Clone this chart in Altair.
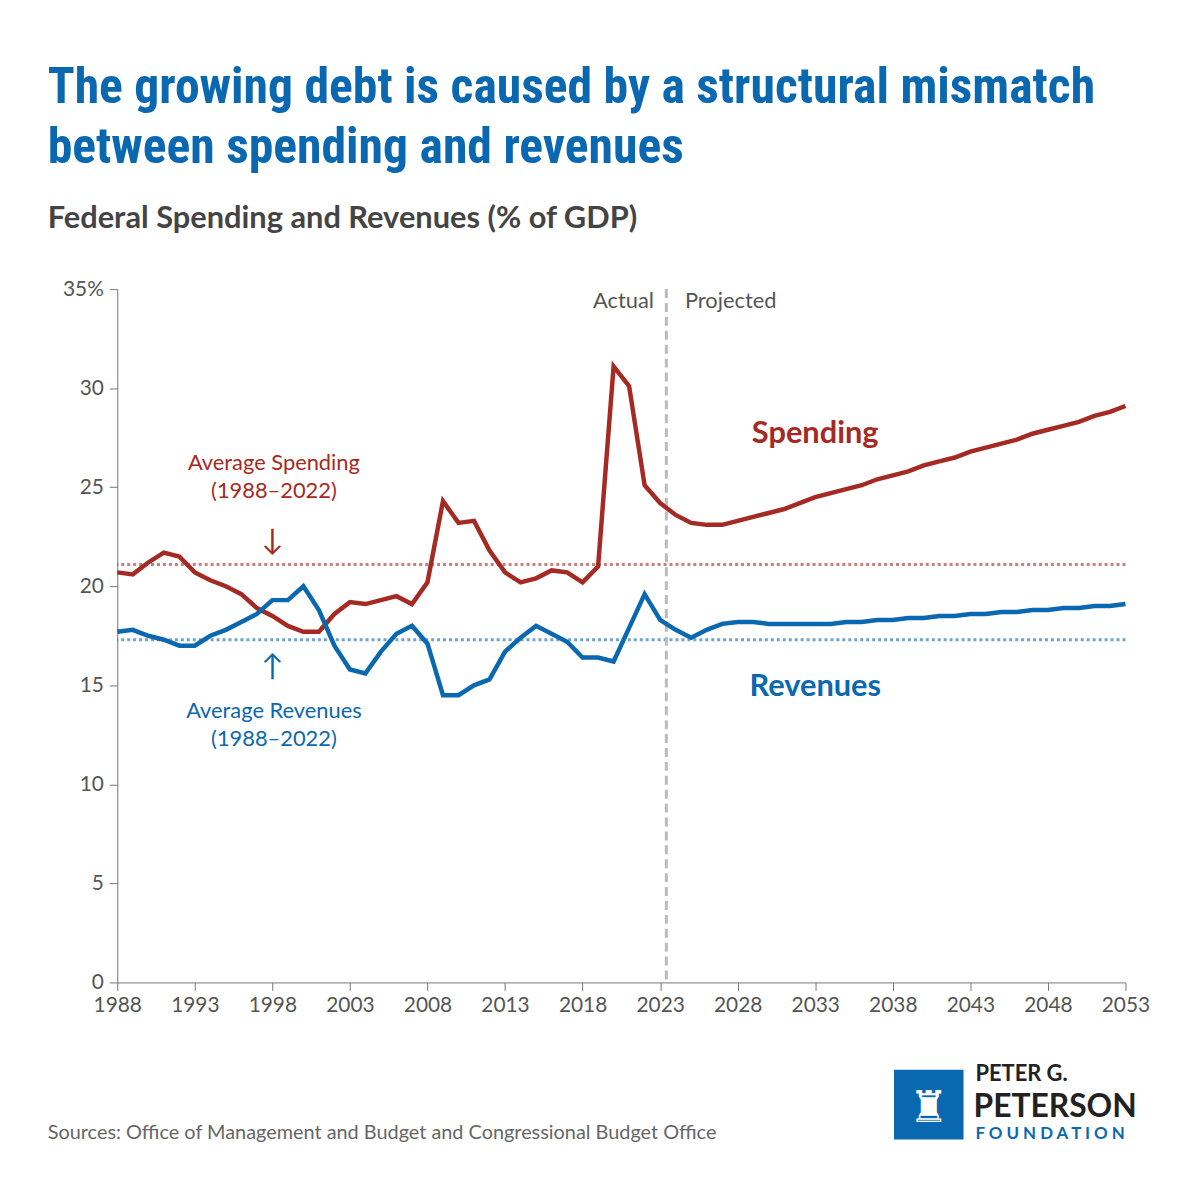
import altair as alt
import pandas as pd

years = list(range(1988, 2054))
spending = [20.7,20.6,21.2,21.7,21.5,20.7,20.3,20.0,19.6,18.9,18.5,18.0,17.7,17.7,18.6,19.2,19.1,19.3,19.5,19.1,
            20.2,24.3,23.2,23.3,21.8,20.7,20.2,20.4,20.8,20.7,20.2,21.0,31.1,30.1,25.1,24.2,23.6,23.2,23.1,23.1,
            23.3,23.5,23.7,23.9,24.2,24.5,24.7,24.9,25.1,25.4,25.6,25.8,26.1,26.3,26.5,26.8,27.0,27.2,27.4,27.7,
            27.9,28.1,28.3,28.6,28.8,29.1]
revenues = [17.7,17.8,17.5,17.3,17.0,17.0,17.5,17.8,18.2,18.6,19.3,19.3,20.0,18.8,17.0,15.8,15.6,16.7,17.6,18.0,
            17.1,14.5,14.5,15.0,15.3,16.7,17.4,18.0,17.6,17.2,16.4,16.4,16.2,17.9,19.6,18.3,17.8,17.4,17.8,18.1,
            18.2,18.2,18.1,18.1,18.1,18.1,18.1,18.2,18.2,18.3,18.3,18.4,18.4,18.5,18.5,18.6,18.6,18.7,18.7,18.8,
            18.8,18.9,18.9,19.0,19.0,19.1]
avg_spending = 21.1
avg_revenues = 17.3
split_year = 2023.4
x_ticks = list(range(1988, 2054, 5))
y_ticks = [0, 5, 10, 15, 20, 25, 30, 35]

RED = "#a52a24"
BLUE = "#0a68b0"
F = "Lato"

df = pd.DataFrame({"year": years, "Spending": spending, "Revenues": revenues})
long = df.melt("year", var_name="series", value_name="v")

xs = alt.Scale(domain=[1988, 2053], nice=False)
ys = alt.Scale(domain=[0, 35], nice=False)

lines = alt.Chart(long).mark_line(strokeWidth=4.5).encode(
    x=alt.X("year:Q", scale=xs, title=None,
            axis=alt.Axis(values=x_ticks, format="d", labelFont=F, labelFontSize=21, labelColor="#555",
                          domainColor="#777", tickColor="#777", tickSize=8, grid=False, labelPadding=4,
                          labelFlush=False)),
    y=alt.Y("v:Q", scale=ys, title=None,
            axis=alt.Axis(values=y_ticks, labelFont=F, labelFontSize=21, labelColor="#555",
                          domainColor="#777", tickColor="#777", tickSize=8, grid=False, labelPadding=6,
                          labelExpr="datum.value == 35 ? '35%' : datum.label")),
    color=alt.Color("series:N", scale=alt.Scale(domain=["Spending", "Revenues"], range=[RED, BLUE]), legend=None),
)

avg = pd.DataFrame({"v": [avg_spending, avg_revenues], "c": [RED, BLUE]})
avg_rules = alt.Chart(avg).mark_rule(strokeDash=[3, 3], strokeWidth=3, opacity=0.6).encode(
    y=alt.Y("v:Q", scale=ys), color=alt.Color("c:N", scale=None))

split = alt.Chart(pd.DataFrame({"x": [split_year]})).mark_rule(
    strokeDash=[9, 5], strokeWidth=3, color="#bbb").encode(x=alt.X("x:Q", scale=xs))

def label(x, y, t, color, size, weight="normal", align="center"):
    return alt.Chart(pd.DataFrame({"x": [x], "y": [y], "t": [t]})).mark_text(
        font=F, fontSize=size, fontWeight=weight, color=color, align=align, baseline="middle"
    ).encode(x=alt.X("x:Q", scale=xs), y=alt.Y("y:Q", scale=ys), text="t:N")

ann = [
    label(2033, 27.7, "Spending", RED, 31, "bold"),
    label(2033, 14.9, "Revenues", BLUE, 31, "bold"),
    label(2022.6, 34.4, "Actual", "#555", 22, align="right"),
    label(2024.6, 34.4, "Projected", "#555", 22, align="left"),
    label(1998.1, 26.2, "Average Spending", RED, 22),
    label(1998.1, 24.8, "(1988–2022)", RED, 22),
    label(1998, 22.3, "↓", RED, 30),
    label(1998, 15.9, "↑", BLUE, 30),
    label(1998.1, 13.7, "Average Revenues", BLUE, 22),
    label(1998.1, 12.3, "(1988–2022)", BLUE, 22),
]

def ptext(x, y, t, color, size, weight="normal", font=F, align="left"):
    return alt.Chart(pd.DataFrame({"t": [t]})).mark_text(
        font=font, fontSize=size, fontWeight=weight, color=color, align=align, baseline="alphabetic"
    ).encode(x=alt.value(x), y=alt.value(y), text="t:N")

OX, OY = 118, 289
TF = "Roboto Condensed, Liberation Sans Narrow, Roboto"
texts = [
    ptext(48 - OX, 102 - OY, "The growing debt is caused by a structural mismatch", BLUE, 50, "bold", TF),
    ptext(48 - OX, 162 - OY, "between spending and revenues", BLUE, 50, "bold", TF),
    ptext(48 - OX, 227 - OY, "Federal Spending and Revenues (% of GDP)", "#444", 31, "bold"),
    ptext(48 - OX, 1145 - OY, "Sources: Office of Management and Budget and Congressional Budget Office", "#666", 20),
    ptext(982 - OX, 1086 - OY, "PETER G.", "#222", 22, "bold"),
    ptext(980 - OX, 1122 - OY, "PETERSON", "#222", 32, "bold"),
    ptext(982 - OX, 1145 - OY, "F O U N D A T I O N", BLUE, 17, "bold"),
]
logo = alt.Chart(pd.DataFrame({"a": [1]})).mark_rect(color=BLUE).encode(
    x=alt.value(900 - OX), x2=alt.value(970 - OX), y=alt.value(1075 - OY), y2=alt.value(1145 - OY))
torch = ptext(935 - OX, 1128 - OY, "♜", "white", 44, align="center")

chart = alt.layer(avg_rules, split, lines, *ann, *texts, logo, torch).properties(
    width=1015, height=698, background="white",
    autosize=alt.AutoSizeParams(type="none"),
    padding={"left": 110, "top": 279, "right": 67, "bottom": 213},
).configure_view(stroke=None)

chart.save("out.html", embed_options={"renderer": "svg", "actions": False})
